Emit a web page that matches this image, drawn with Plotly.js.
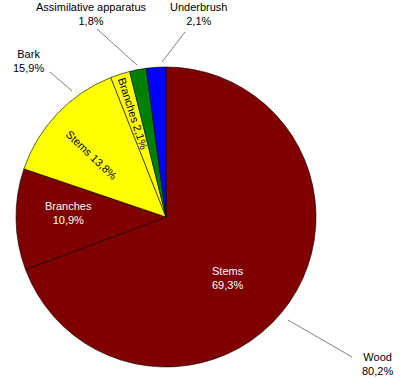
<!DOCTYPE html>
<html>
<head>
<meta charset="utf-8">
<script src="https://cdn.plot.ly/plotly-3.0.1.min.js"></script>
<style>html,body{margin:0;padding:0;background:#fff;}</style>
</head>
<body>
<div id="chart" style="width:400px;height:379px;"></div>
<script>
// Data
var sliceKeys = ["wood-stems", "wood-branches", "bark-stems", "bark-branches", "assimilative", "underbrush"];
var sliceNames = ["Stems", "Branches", "Stems", "Branches", "", ""];
var sliceValues = [69.3, 10.9, 13.8, 2.1, 1.8, 2.1];
var sliceColors = ["#800000", "#800000", "#ffff00", "#ffff00", "#008000", "#0000ff"];
var groupNames = ["Wood", "Bark", "Assimilative apparatus", "Underbrush"];
var groupValues = [80.2, 15.9, 1.8, 2.1];

function fmt(v) { return v.toFixed(1).replace(".", ",") + "%"; }

var W = 400, H = 379;
function px(x) { return x / W; }
function py(y) { return 1 - y / H; }
var CX = 166, CY = 217, R = 150;
var dom = { x: [px(CX - R), px(CX + R)], y: [py(CY + R), py(CY - R)] };
var FONT = "Liberation Sans, Arial, sans-serif";

var pie = {
  type: "pie",
  labels: sliceKeys,
  values: sliceValues,
  sort: false,
  direction: "clockwise",
  rotation: 0,
  domain: dom,
  textinfo: "none",
  hoverinfo: "none",
  showlegend: false,
  marker: { colors: sliceColors, line: { color: "#000000", width: 0.6 } }
};

// Inside labels: placed on each slice's mid angle (layout only)
var insideR = [0.58, 0.65, 0.647, 0.72, 0, 0];
var insideShift = [9.5, 3.2, -3.6, 0, 0, 0];
var insideRadial = [false, false, true, true, false, false];
var annotations = [];
var total = sliceValues.reduce(function (a, b) { return a + b; }, 0);
var cum = 0;
sliceValues.forEach(function (v, i) {
  var mid = (cum + v / 2) / total * 360;
  cum += v;
  if (!sliceNames[i]) return;
  var th = (mid + insideShift[i]) * Math.PI / 180;
  var x = CX + insideR[i] * R * Math.sin(th);
  var y = CY - insideR[i] * R * Math.cos(th);
  var dark = sliceColors[i] === "#800000";
  annotations.push({
    xref: "paper", yref: "paper", x: px(x), y: py(y),
    xanchor: "center", yanchor: "middle", showarrow: false,
    text: insideRadial[i] ? sliceNames[i] + " " + fmt(v) : sliceNames[i] + "<br>" + fmt(v),
    textangle: insideRadial[i] ? mid - 270 : 0,
    font: { family: FONT, size: 11, color: dark ? "#ffffff" : "#000000" }
  });
});

// Outer group labels and leader lines (layout positions in pixels)
var labelPos = [[377, 364], [28, 61], [91, 14], [198, 14]];
var leaders = [[[288, 320], [352, 357]], [[50, 72], [72, 91]], [[97, 29], [137, 65]], [[185, 32], [162, 62]]];

groupNames.forEach(function (g, i) {
  annotations.push({
    xref: "paper", yref: "paper",
    x: px(labelPos[i][0]), y: py(labelPos[i][1]),
    xanchor: "center", yanchor: "middle",
    text: g + "<br>" + fmt(groupValues[i]),
    showarrow: false,
    font: { family: FONT, size: 11, color: "#000000" }
  });
});
var shapes = leaders.map(function (l) {
  return {
    type: "line", xref: "paper", yref: "paper",
    x0: px(l[0][0]), y0: py(l[0][1]), x1: px(l[1][0]), y1: py(l[1][1]),
    line: { color: "#808080", width: 1 }
  };
});

var layout = {
  width: W, height: H,
  margin: { l: 0, r: 0, t: 0, b: 0 },
  paper_bgcolor: "#ffffff",
  plot_bgcolor: "#ffffff",
  annotations: annotations,
  shapes: shapes
};

Plotly.newPlot("chart", [pie], layout, { displayModeBar: false, staticPlot: true });
</script>
</body>
</html>
